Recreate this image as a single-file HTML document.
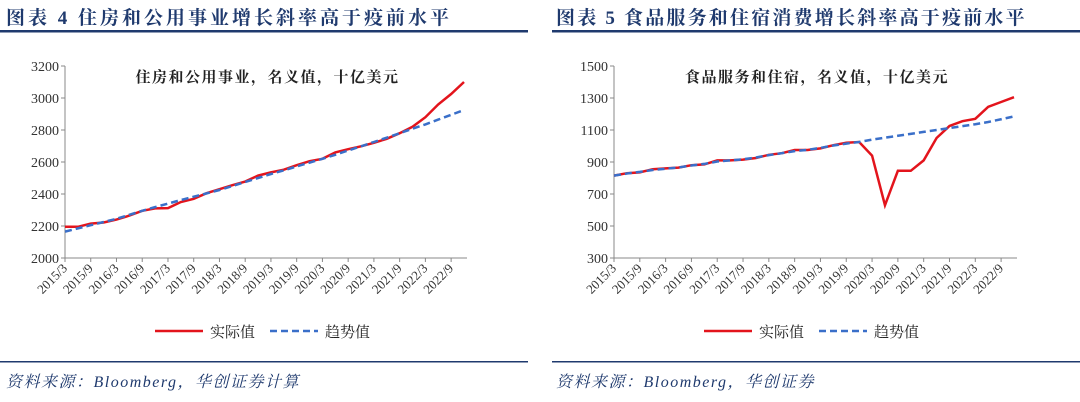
<!DOCTYPE html>
<html><head><meta charset="utf-8"><style>
body{margin:0;width:1080px;height:402px;background:#fff;overflow:hidden;font-family:"Liberation Serif","Noto Serif CJK SC",serif}
svg{position:absolute;left:0;top:0}
</style></head><body>
<svg id="s" width="1080" height="402">
<text x="6" y="24" font-size="19" font-weight="bold" letter-spacing="3" fill="#1f3a6e">图表 4  住房和公用事业增长斜率高于疫前水平</text>
<text x="556" y="24" font-size="19" font-weight="bold" letter-spacing="2.2" fill="#1f3a6e">图表 5  食品服务和住宿消费增长斜率高于疫前水平</text>
<rect x="0" y="30" width="528" height="2.5" fill="#1f3a6e"/>
<rect x="552" y="30" width="528" height="2.5" fill="#1f3a6e"/>
<rect x="0" y="361" width="528" height="1.5" fill="#1f3a6e"/>
<rect x="552" y="361" width="528" height="1.5" fill="#1f3a6e"/>
<text x="6" y="387" font-size="16" font-style="italic" letter-spacing="1.5" fill="#1f3a6e">资料来源：Bloomberg，华创证券计算</text>
<text x="556" y="387" font-size="16" font-style="italic" letter-spacing="1.5" fill="#1f3a6e">资料来源：Bloomberg，华创证券</text>
</svg>
<script>
const categories=["2015/3","2015/6","2015/9","2015/12","2016/3","2016/6","2016/9","2016/12","2017/3","2017/6","2017/9","2017/12","2018/3","2018/6","2018/9","2018/12","2019/3","2019/6","2019/9","2019/12","2020/3","2020/6","2020/9","2020/12","2021/3","2021/6","2021/9","2021/12","2022/3","2022/6","2022/9","2022/12"];
const leftActual=[2195,2195,2215,2222,2240,2265,2295,2310,2312,2350,2370,2405,2430,2455,2478,2515,2535,2552,2580,2605,2620,2660,2680,2698,2720,2745,2780,2820,2880,2960,3025,3100];
const leftTrend=[2165,2185,2205,2225,2245,2270,2295,2318,2340,2362,2383,2404,2425,2450,2475,2500,2525,2548,2572,2596,2620,2645,2672,2698,2725,2752,2780,2808,2835,2865,2895,2925];
const leftTicks=[2000,2200,2400,2600,2800,3000,3200];
const rightActual=[815,830,835,855,860,865,880,885,910,910,915,925,945,955,975,975,985,1005,1020,1025,940,630,845,845,910,1050,1125,1155,1170,1245,1275,1305];
const rightTrend=[815,828,838,850,858,866,878,888,903,910,917,928,943,955,968,976,988,1003,1015,1025,1040,1052,1064,1076,1088,1100,1112,1124,1136,1150,1167,1185];
const rightTicks=[300,500,700,900,1100,1300,1500];
const NS="http://www.w3.org/2000/svg";
const svg=document.getElementById('s');
function mk(t,a){const e=document.createElementNS(NS,t);for(const k in a)e.setAttribute(k,a[k]);svg.appendChild(e);return e;}
function draw(p,x0,x1,ticks,actual,trend,title){
 const yT=66,yB=258,mn=ticks[0],mx=ticks[ticks.length-1];
 const sx=i=>x0+i*(x1-x0)/(categories.length-1);
 const sy=v=>yB-(v-mn)/(mx-mn)*(yB-yT);
 let e=mk('line',{x1:x0,y1:yT,x2:x0,y2:yB,stroke:'#888','stroke-width':1});
 
 e=mk('line',{x1:x0,y1:yB,x2:x1+3,y2:yB,stroke:'#888','stroke-width':1});
 
 ticks.forEach(t=>{
  mk('line',{x1:x0-4,y1:sy(t),x2:x0,y2:sy(t),stroke:'#888'});
  e=mk('text',{x:x0-6,y:sy(t)+5,'font-size':14,'text-anchor':'end',fill:'#333'});e.textContent=t;
  
 });
 categories.forEach((c,i)=>{
  if(i%2)return;
  mk('line',{x1:sx(i),y1:yB,x2:sx(i),y2:yB+4,stroke:'#888'});
  e=mk('text',{x:sx(i)+3,y:yB+11,'font-size':13,'text-anchor':'end',fill:'#333',transform:`rotate(-45 ${sx(i)+3} ${yB+11})`});e.textContent=c;
  
 });
 e=mk('polyline',{points:actual.map((v,i)=>sx(i)+','+sy(v)).join(' '),fill:'none',stroke:'#e3141c','stroke-width':2.5});
 
 e=mk('polyline',{points:trend.map((v,i)=>sx(i)+','+sy(v)).join(' '),fill:'none',stroke:'#3a6fc9','stroke-width':2.5,'stroke-dasharray':'7,4'});
 
 e=mk('text',{x:(x0+x1)/2+3,y:82,'font-size':15,'font-weight':'bold','letter-spacing':1.5,'text-anchor':'middle',fill:'#222'});e.textContent=title;
 
 const lx=x0+90;
 e=mk('line',{x1:lx,y1:331,x2:lx+48,y2:331,stroke:'#e3141c','stroke-width':2.5});
 
 e=mk('text',{x:lx+55,y:337,'font-size':15,fill:'#222'});e.textContent='实际值';
 
 e=mk('line',{x1:lx+115,y1:331,x2:lx+163,y2:331,stroke:'#3a6fc9','stroke-width':2.5,'stroke-dasharray':'7,4'});
 
 e=mk('text',{x:lx+170,y:337,'font-size':15,fill:'#222'});e.textContent='趋势值';
 
}
draw('left',65,464,leftTicks,leftActual,leftTrend,'住房和公用事业，名义值，十亿美元');
draw('right',614,1014,rightTicks,rightActual,rightTrend,'食品服务和住宿，名义值，十亿美元');
</script>
</body></html>
